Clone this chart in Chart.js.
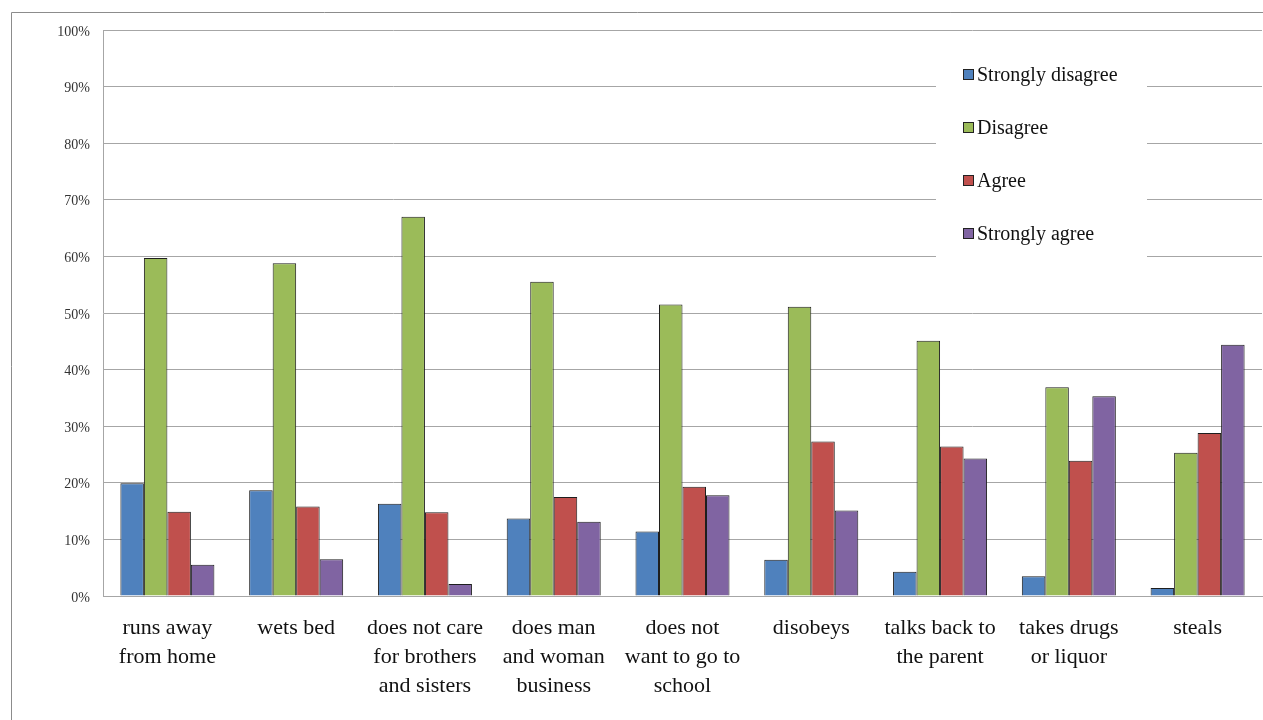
<!DOCTYPE html>
<html>
<head>
<meta charset="utf-8">
<script src="https://cdn.jsdelivr.net/npm/chart.js@4.4.0/dist/chart.umd.min.js"></script>
<style>
html,body{margin:0;padding:0;background:#fff;}
#wrap{width:1263px;height:720px;position:relative;}
</style>
</head>
<body>
<div id="wrap"><canvas id="c" width="1263" height="720"></canvas></div>
<script>
const categories = [
  ["runs away","from home"],
  ["wets bed"],
  ["does not care","for brothers","and sisters"],
  ["does man","and woman","business"],
  ["does not","want to go to","school"],
  ["disobeys"],
  ["talks back to","the parent"],
  ["takes drugs","or liquor"],
  ["steals"]
];
const seriesNames = ["Strongly disagree","Disagree","Agree","Strongly agree"];
const stronglyDisagree = [19.9, 18.7, 16.3, 13.7, 11.4, 6.4, 4.3, 3.5, 1.4];
const disagree         = [59.7, 58.8, 67.0, 55.5, 51.5, 51.1, 45.1, 36.9, 25.3];
const agree            = [14.9, 15.8, 14.8, 17.5, 19.3, 27.3, 26.4, 23.9, 28.8];
const stronglyAgree    = [5.5, 6.5, 2.1, 13.1, 17.8, 15.1, 24.3, 35.3, 44.4];
const yTicks = [0,10,20,30,40,50,60,70,80,90,100];
const colors = ["#4F81BD","#9BBB59","#C0504D","#8064A2"];

const serif = "'Liberation Serif','Times New Roman',serif";
const values = [stronglyDisagree, disagree, agree, stronglyAgree];

const frame = {
  id:'frame',
  beforeDraw(chart){
    const ctx = chart.ctx;
    ctx.save();
    ctx.strokeStyle = '#8c8c8c';
    ctx.lineWidth = 1;
    ctx.beginPath();
    ctx.moveTo(11.5, 720);
    ctx.lineTo(11.5, 12.5);
    ctx.lineTo(1263, 12.5);
    ctx.stroke();
    ctx.restore();
  }
};

const legendBox = {
  id:'legendBox',
  afterDatasetsDraw(chart){
    const ctx = chart.ctx;
    ctx.save();
    ctx.fillStyle = '#fff';
    ctx.fillRect(936, 48, 211, 216);
    ctx.font = "20px " + serif;
    ctx.textBaseline = 'middle';
    chart.data.datasets.forEach((ds, i) => {
      const y = 75 + i * 53;
      ctx.fillStyle = ds.backgroundColor;
      ctx.fillRect(963.5, y - 5.5, 10, 10);
      ctx.strokeStyle = '#222';
      ctx.lineWidth = 1;
      ctx.strokeRect(963.5, y - 5.5, 10, 10);
      ctx.fillStyle = '#111';
      ctx.fillText(ds.label, 977, y + 1);
    });
    ctx.restore();
  }
};

new Chart(document.getElementById('c'), {
  type: 'bar',
  data: {
    labels: categories,
    datasets: seriesNames.map((n, i) => ({
      label: n,
      data: values[i],
      backgroundColor: colors[i],
      borderColor: '#1e1e1e',
      borderWidth: 1,
      borderSkipped: 'bottom',
      categoryPercentage: 0.73,
      barPercentage: 1.0
    }))
  },
  options: {
    responsive: false,
    animation: false,
    layout: { padding: { left: 0, top: 30, right: 1, bottom: 0 } },
    plugins: { legend: { display: false }, tooltip: { enabled: false } },
    scales: {
      x: {
        grid: { display: false, drawTicks: false },
        border: { display: true, color: '#a6a6a6', width: 1 },
        ticks: {
          color: '#111',
          font: { family: serif, size: 22, lineHeight: 1.34 },
          padding: 17,
          maxRotation: 0,
          autoSkip: false
        },
        afterFit(scale){ scale.height = 124; }
      },
      y: {
        min: 0, max: 100,
        afterBuildTicks(scale){ scale.ticks = yTicks.map(v => ({ value: v })); },
        grid: { color: '#a6a6a6', lineWidth: 1, drawTicks: false },
        border: { display: true, color: '#a6a6a6', width: 1 },
        ticks: {
          color: '#333',
          font: { family: serif, size: 14 },
          padding: 13,
          labelOffset: 2,
          callback: v => v + '%'
        },
        afterFit(scale){ scale.width = 103; }
      }
    }
  },
  plugins: [frame, legendBox]
});
</script>
</body>
</html>
